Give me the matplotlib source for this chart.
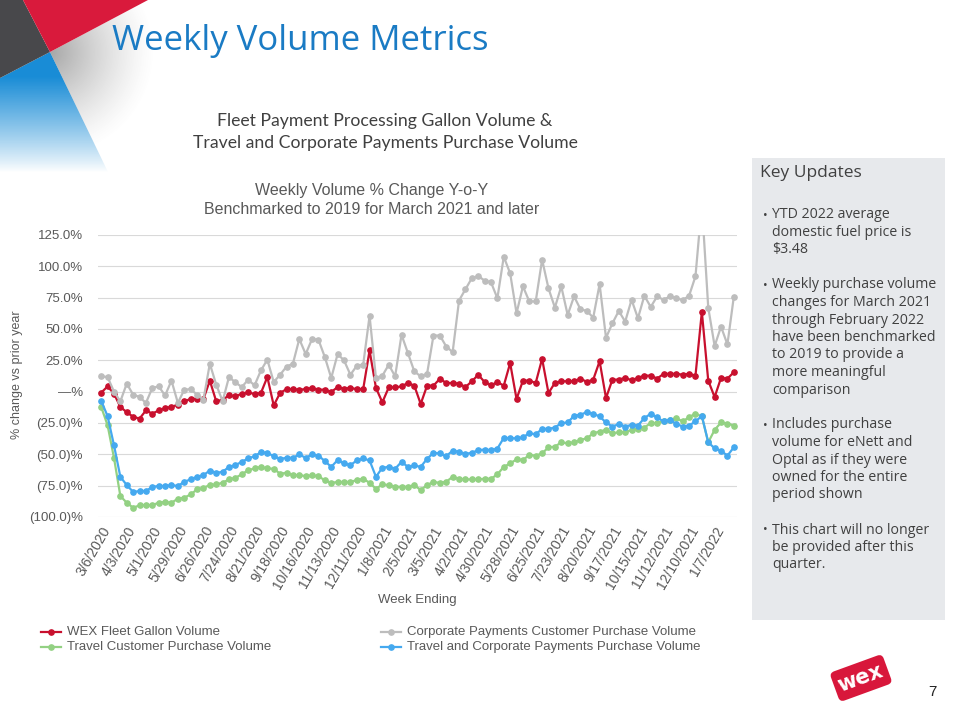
import numpy as np
import matplotlib
matplotlib.use("Agg")
import matplotlib.pyplot as plt
from matplotlib.patches import Polygon, Rectangle, FancyBboxPatch
from matplotlib.lines import Line2D
import matplotlib.transforms as mtransforms

# weekly series, week ending 3/6/2020 onward (one value per week, % vs prior year)
wex_fleet = [
    -0.8, 4.2, -1.6, -12.2, -16.4, -20, -21.5, -15, -17.5, -15, -13, -12.2, -10.3, -7.7, -5.8, -5.8,
    -5.8, 8.8, -7.7, -6.4, -3, -3.7, -1.6, -0.5, -1.9, -1, 11.7, -11, -1,
    2, 2, 1.6, 2, 3, 1.6, 1.6, -0.3, 3.7, 2.4, 3, 2, 2, 32.9, 3, -8.5, 3.4, 3.4, 4.2, 6.9, 4.8,
    -9.8, 4.8, 4.8, 10.3, 6.9, 6.9, 6.4, 3.7, 8.2, 13.5, 7.7, 5, 7.7, 4.8, 22.8,
    -5.9, 8.8, 8.8, 7, 26.2, -1.1, 7, 8.3, 8.3, 8.3, 10.4, 7.8, 9.6, 24.3, -5.1, 9.6, 9.6, 11, 9.1,
    11, 12.8, 12.8, 10.4, 14.2, 14.2, 14.2, 13.6, 14.2, 12.8, 63.6, 8.8, -4.3, 11, 10.4, 15.5,
]
corp_payments = [
    12.2, 11.7, 0, -7.7, 6.4, -2.4, -4.2, -9, 3, 4.2, -3, 8.8, -9, 1.6, 2, -2.4, -6.4, 22.3, 5.6,
    -7.7, 11.7, 7.4, 3.7, 9.5, 5, 17, 25.5, 7.7, 13.5,
    20, 22.3, 42, 30, 42, 41.4, 27.6, 10.9, 30, 25, 13.5, 20.7, 21.5, 60.5, 10.9, 12.7, 21.5, 12.2,
    45.4, 30.8, 16.2, 12.2, 14.3, 44.8, 44.8, 36, 31.6, 72.7, 81.7, 90.5, 92.3, 88.6, 87.3, 74.5,
    107.7, 94.4,
    62.6, 84, 72, 72, 105.3, 82.4, 67.1, 84, 61.2, 76, 65.8, 64.4, 59.1, 85.8, 43, 54.5, 64.4, 55.9,
    73.3, 58.6, 76.5, 67.6, 76, 73.3, 76, 74.6, 73, 76.5, 92, 150, 67.1, 36.4, 51.9, 37.7, 75.7,
]
travel = [
    -12.2, -26.8, -52.8, -83.3, -88.6, -92.6, -90.7, -90.5, -90.5, -88.6, -88, -88.6, -85.4, -84.6,
    -82, -78, -76.7, -74.5, -74, -72.7, -70, -68.7, -66, -62.6, -61.3, -60, -61.3, -61.5, -65.5,
    -64.7, -66.6, -66.6, -67.4, -66.8, -67.4, -70.8, -72.7, -72.1, -72.1, -72.1, -70.5, -69.5, -72.7,
    -77.5, -74, -74.5, -75.9, -75.9, -75.9, -74.5, -78.5, -74.5, -72.1, -72.7, -71.9, -67.9, -69.5,
    -70, -70, -70, -69.5, -69.5, -66, -60, -57.3,
    -54, -54.5, -50.5, -51.1, -49.2, -44.4, -43.9, -40.4, -41.2, -40.4, -38.5, -37.2, -33.2, -31.8,
    -30.5, -33.2, -32.4, -32.4, -30.5, -29.7, -28.6, -25.1, -25.1, -23.3, -22.5, -21.1, -23.8, -20.3,
    -17.6, -19.8, -40.4, -30.5, -24.6, -25.4, -27,
]
travel_corp = [
    -7.2, -19.6, -42.7, -68, -74.5, -80, -79.3, -79.3, -75.9, -75.3, -75.3, -74.5, -75.3, -71.9, -70,
    -67.9, -66.6, -62.9, -64.7, -64, -60, -58.6, -56, -53.3, -51.5, -48.3, -48.8, -51.5, -53.6,
    -52.8, -52.8, -50.1, -52.8, -50.1, -51, -55.4, -60, -54.6, -57.3, -58.6, -54.9, -53.3, -54.9,
    -67.9, -60.7, -60, -61.5, -56, -60, -58.9, -60, -53.6, -48.8, -49.3, -51.5, -47, -48, -49.6,
    -48.8, -46.7, -46.2, -46.7, -45.4, -36.9, -37.2,
    -37.2, -36.4, -33.2, -34, -29.7, -29.7, -28.6, -25.1, -24.6, -19.3, -18.4, -16.3, -17.6, -19.8,
    -24.6, -27.8, -25.9, -27.8, -26.5, -27, -21.1, -17.6, -20.6, -23.8, -22.5, -25.7, -27.8, -27,
    -23.8, -19.3, -40.4, -45.2, -47.1, -51.1, -44.4,
]

tick_labels = [
    "3/6/2020", "4/3/2020", "5/1/2020", "5/29/2020", "6/26/2020", "7/24/2020", "8/21/2020",
    "9/18/2020", "10/16/2020", "11/13/2020", "12/11/2020", "1/8/2021", "2/5/2021", "3/5/2021",
    "4/2/2021", "4/30/2021", "5/28/2021", "6/25/2021", "7/23/2021", "8/20/2021", "9/17/2021",
    "10/15/2021", "11/12/2021", "12/10/2021", "1/7/2022",
]
y_ticks = [-100, -75, -50, -25, 0, 25, 50, 75, 100, 125]
y_tick_labels = ["(100.0)%", "(75.0)%", "(50.0)%", "(25.0)%", "\u2014%",
                 "25.0%", "50.0%", "75.0%", "100.0%", "125.0%"]

series_names = ["WEX Fleet Gallon Volume", "Corporate Payments Customer Purchase Volume",
                "Travel Customer Purchase Volume", "Travel and Corporate Payments Purchase Volume"]
series_colors = ["#C8102E", "#BDBDBD", "#93D183", "#45A9EF"]

key_updates = [
    ["YTD 2022 average", "domestic fuel price is", "\\$3.48"],
    ["Weekly purchase volume", "changes for March 2021", "through February 2022",
     "have been benchmarked", "to 2019 to provide a", "more meaningful", "comparison"],
    ["Includes purchase", "volume for eNett and", "Optal as if they were",
     "owned for the entire", "period shown"],
    ["This chart will no longer", "be provided after this", "quarter."],
]

ARIAL = "Liberation Sans"
SEGOE = "Open Sans"
GREY_TXT = "#595959"

fig = plt.figure(figsize=(9.6, 7.2), dpi=100)

# background axes in pixel coordinates (y down)
bg = fig.add_axes([0, 0, 1, 1])
bg.set_xlim(0, 960)
bg.set_ylim(720, 0)
bg.axis("off")

# top-left decorative corner
yy, xx = np.mgrid[0:180, 0:180] + 0.5
blue_img = np.zeros((180, 180, 4))
blue_img[..., 0], blue_img[..., 1], blue_img[..., 2] = 0.10, 0.55, 0.84
blue_img[..., 3] = np.clip((172 - yy) / 95, 0, 1) ** 0.9
im = bg.imshow(blue_img, extent=(0, 180, 180, 0), origin="upper", zorder=1)
clip_blue = Polygon([(0, 78), (50, 52), (108, 172), (0, 172)], closed=True, transform=bg.transData)
im.set_clip_path(clip_blue)

grey_img = np.zeros((180, 180, 4))
grey_img[..., :3] = 0.45
dist = np.hypot(xx - 50, yy - 52)
grey_img[..., 3] = np.clip(0.7 * (1 - dist / 105), 0, 1) ** 1.3
im2 = bg.imshow(grey_img, extent=(0, 180, 180, 0), origin="upper", zorder=1)
clip_grey = Polygon([(50, 52), (148, 0), (180, 0), (180, 172), (108, 172)], closed=True,
                    transform=bg.transData)
im2.set_clip_path(clip_grey)

bg.add_patch(Polygon([(0, 0), (23, 0), (50, 52), (0, 78)], closed=True, fc="#48484B", ec="none", zorder=2))
bg.add_patch(Polygon([(23, 0), (148, 0), (50, 52)], closed=True, fc="#D91A3C", ec="none", zorder=2))
bg.set_xlim(0, 960)
bg.set_ylim(720, 0)

# titles
bg.text(112, 41, "Weekly Volume Metrics", family=SEGOE, fontsize=25, color="#1A7BC4",
        va="center", ha="left")
bg.text(385, 121, "Fleet Payment Processing Gallon Volume &", family="Lato", fontsize=12.7,
        color="#404040", ha="center", va="center")
bg.text(385, 143, "Travel and Corporate Payments Purchase Volume", family="Lato", fontsize=12.7,
        color="#404040", ha="center", va="center")
bg.text(372, 190, "Weekly Volume % Change Y-o-Y", family=ARIAL, fontsize=11.5, color=GREY_TXT,
        ha="center", va="center")
bg.text(372, 209, "Benchmarked to 2019 for March 2021 and later", family=ARIAL, fontsize=11.5,
        color=GREY_TXT, ha="center", va="center")

# chart
ax = fig.add_axes([98 / 960, (720 - 517) / 720, 639 / 960, 282 / 720])
x = np.arange(len(wex_fleet))
for vals, name, col in zip([wex_fleet, corp_payments, travel, travel_corp], series_names, series_colors):
    ax.plot(x, vals, color=col, lw=1.6, marker="o", ms=3.8, label=name, zorder=3)
ax.set_xlim(-0.5, len(wex_fleet) - 0.5)
ax.set_ylim(-100, 125)
ax.set_yticks(y_ticks)
ax.set_yticklabels(y_tick_labels, family=ARIAL, fontsize=9.5, color=GREY_TXT)
ax.set_xticks(np.arange(0, len(wex_fleet), 4))
ax.set_xticklabels(tick_labels, rotation=60, ha="right", rotation_mode="anchor",
                   family=ARIAL, fontsize=10, color=GREY_TXT)
ax.tick_params(axis="both", length=0)
ax.tick_params(axis="y", pad=11)
ax.tick_params(axis="x", pad=5)
ax.yaxis.grid(True, color="#D9D9D9", lw=0.8)
ax.set_axisbelow(True)
for s in ax.spines.values():
    s.set_visible(False)
ax.patch.set_alpha(0)

bg.text(17, 375, "% change vs prior year", family=ARIAL, fontsize=9, color=GREY_TXT,
        rotation=90, ha="center", va="center")
bg.text(417, 600, "Week Ending", family=ARIAL, fontsize=9.5, color=GREY_TXT, ha="center", va="center")

# legend, drawn by hand in two columns
legend_slots = [(51, 632), (391, 632), (51, 647), (391, 647)]
for (lx, ly), name, col in zip(legend_slots, series_names, series_colors):
    bg.add_line(Line2D([lx - 10, lx, lx + 10], [ly, ly, ly], color=col, lw=1.6, marker="o",
                       markevery=[1], ms=3.8, zorder=3))
    bg.text(lx + 16, ly, name, family=ARIAL, fontsize=9.5, color=GREY_TXT, va="center", ha="left")

# key updates panel
bg.add_patch(Rectangle((752, 158), 193, 462, fc="#E7E9EC", ec="none", zorder=0))
bg.text(760, 173, "Key Updates", family=SEGOE, fontsize=12.5, color="#404040", va="center", ha="left")
row = 0
for bullet in key_updates:
    bg.text(765, 215 + 17.5 * row, "\u2022", family=SEGOE, fontsize=9, color="#404040",
            va="center", ha="center")
    for line in bullet:
        bg.text(772, 215 + 17.5 * row, line, family=SEGOE, fontsize=10.2, color="#404040",
                va="center", ha="left")
        row += 1
    row += 1

# logo and page number
cx, cy = 861, 678
rot = mtransforms.Affine2D().rotate_deg_around(cx, cy, -20) + bg.transData
bg.add_patch(FancyBboxPatch((cx - 28, cy - 15.5), 56, 31, boxstyle="round,pad=0,rounding_size=5",
                            fc="#D8173B", ec="none", transform=rot, zorder=2))
bg.text(cx - 1, cy, "wex", family="DejaVu Sans", fontweight="bold", fontsize=15, color="white",
        rotation=20, ha="center", va="center", rotation_mode="anchor", zorder=3)
bg.text(932, 692, "7", family=ARIAL, fontsize=11, color="#222222", ha="center", va="center")

fig.savefig("out.png", dpi=100)
